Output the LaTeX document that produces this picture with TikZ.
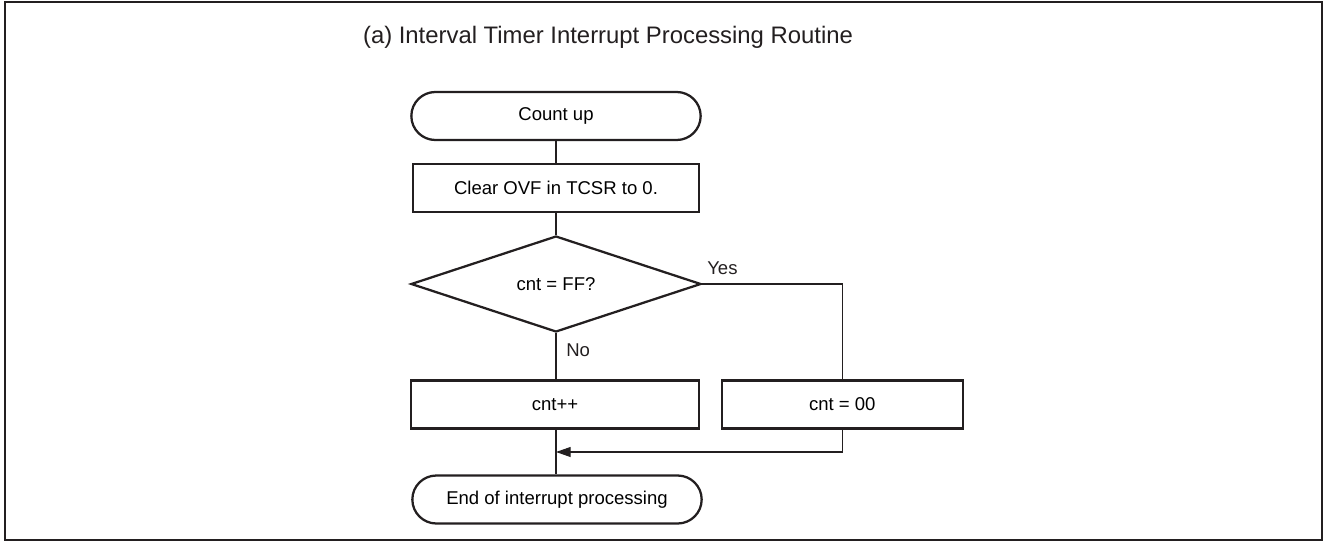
\documentclass[tikz,border=0pt]{standalone}
\usepackage{fontspec}
\setmainfont{Liberation Sans}
\usepackage{tikz}
\usetikzlibrary{arrows.meta,shapes,positioning,calc}
\definecolor{ink}{RGB}{35,31,32}
\newcommand{\bodyfont}{\fontsize{13.9pt}{16pt}\selectfont}
\newcommand{\titlefont}{\fontsize{17.9pt}{20pt}\selectfont}

\begin{document}
\begin{tikzpicture}[
    x=0.75pt, y=-0.75pt,
    terminal/.style={rectangle, draw=ink, line width=1.7pt, rounded corners=18pt,
                     minimum width=217pt, minimum height=36pt, align=center, font=\bodyfont},
    process/.style={rectangle, draw=ink, line width=1.7pt,
                    minimum height=36pt, align=center, font=\bodyfont},
    decision/.style={diamond, draw=ink, line width=1.7pt, aspect=3.02,
                     minimum width=217.5pt, minimum height=72pt, inner sep=0pt, font=\bodyfont},
    flow/.style={draw=ink, line width=0.8pt},
    tag/.style={font=\bodyfont, text=ink, anchor=west, inner sep=0pt}
]
    \useasboundingbox (0,0) rectangle (1324,542);

    % Frame
    \draw[ink, line width=1.6pt] (5,2) rectangle (1322,540);

    % Title
    \node[font=\titlefont, text=ink] (title) at (608,37) {(a) Interval Timer Interrupt Processing Routine};

    % Main column
    \node[terminal] (start) at (556,116) {Count up};
    \node[process, minimum width=215pt] (clear) at (556,188) {Clear OVF in TCSR to 0.};
    \node[decision] (check) at (556,284) {cnt = FF?};
    \node[process, minimum width=216pt] (inc) at (555,404.5) {cnt++};
    \node[terminal] (stop) at (557,499.5) {End of interrupt processing};

    % Right branch
    \node[process, minimum width=181pt] (reset) at (842.3,404.5) {cnt = 00};
    \coordinate (join) at (556,452);

    % Labels
    \node[tag] (yes) at (707,268) {Yes};
    \node[tag] (no) at (566,350) {No};

    % Arrows
    \draw[flow] (start) -- (clear);
    \draw[flow] (clear) -- (check);
    \draw[flow] (check.south) -- (check.south |- inc.north);
    \draw[flow] (check.east) -| (reset.north);
    \draw[flow] (inc.south -| join) -- (stop.north -| join);
    \draw[flow, -{Triangle[length=11pt, width=7.5pt]}] (reset.south) |- (join);
\end{tikzpicture}
\end{document}
